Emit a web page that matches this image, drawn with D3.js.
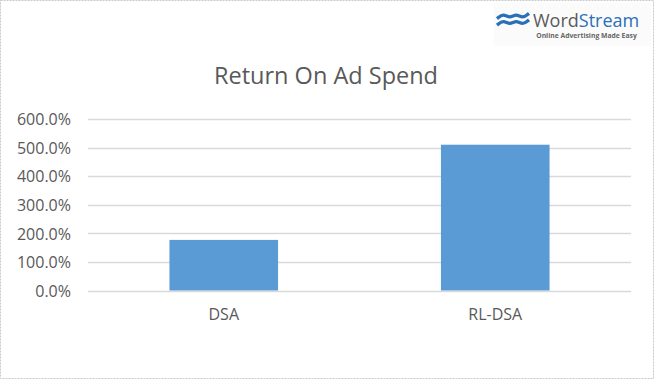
<!DOCTYPE html>
<html><head><meta charset="utf-8">
<script src="https://cdn.jsdelivr.net/npm/d3@7"></script>
<style>body{margin:0;background:#fff}svg{display:block}</style>
</head><body>
<script>
const categories = ["DSA", "RL-DSA"];
const values = [177, 510];
const ticks = [0, 100, 200, 300, 400, 500, 600];
const title = "Return On Ad Spend";

(function () {
const W = 655, H = 381;
const FONT = "'Open Sans', 'Liberation Sans', sans-serif";
const svg = d3.select("body").append("svg").attr("width", W).attr("height", H);
svg.append("rect").attr("x", 0.5).attr("y", 0.5).attr("width", 653).attr("height", 378)
  .attr("fill", "#fff").attr("stroke", "#c8c8c8").attr("stroke-dasharray", "2,1");

const pLeft = 88, pRight = 631, pTop = 119, pBottom = 290.5;
const x = d3.scaleBand().domain(categories).range([pLeft, pRight]).paddingInner(0.6).paddingOuter(0.3);
const y = d3.scaleLinear().domain([0, 600]).range([pBottom, pTop]);

svg.append("g").selectAll("line").data(ticks).join("line")
  .attr("x1", pLeft).attr("x2", pRight)
  .attr("y1", d => Math.round(y(d)) + 0.5).attr("y2", d => Math.round(y(d)) + 0.5)
  .attr("stroke", "#d9d9d9").attr("stroke-width", 1.4);

const yAxis = d3.axisLeft(y).tickValues(ticks).tickSize(0).tickPadding(0)
  .tickFormat(d => d.toFixed(1) + "%");
const ya = svg.append("g").attr("transform", `translate(${pLeft - 17},0)`).call(yAxis);
ya.select(".domain").remove();
ya.selectAll("text").attr("fill", "#595959").attr("dy", "0.36em").style("font-family", FONT).style("font-size", "16px");

svg.append("g").selectAll("rect").data(values).join("rect")
  .attr("x", (d, i) => x(categories[i])).attr("width", x.bandwidth())
  .attr("y", d => y(d)).attr("height", d => y(0) - y(d))
  .attr("fill", "#5b9bd5");

const xAxis = d3.axisBottom(x).tickSize(0).tickPadding(0);
const xa = svg.append("g").attr("transform", `translate(0,${pBottom + 18})`).call(xAxis);
xa.select(".domain").remove();
xa.selectAll("text").attr("fill", "#595959").style("font-family", FONT).style("font-size", "16px");

svg.append("text").attr("x", 326).attr("y", 84).attr("text-anchor", "middle")
  .attr("fill", "#595959").style("font-family", FONT).style("font-size", "23.5px")
  .text(title);

const logo = svg.append("g");
logo.append("rect").attr("x", 494).attr("y", 3).attr("width", 157).attr("height", 43).attr("fill", "#fbfbfb");
const wave = d3.line().curve(d3.curveBasis);
[16, 22.5].forEach(yy => {
  const pts = d3.range(0, 6).map(k => [497 + k * 6.4, yy + (k % 2 ? -2.6 : 2.6)]);
  logo.append("path").attr("d", wave(pts)).attr("fill", "none").attr("stroke", "#2a70b8").attr("stroke-width", 3.4);
});
const t = logo.append("text").attr("x", 533).attr("y", 27)
  .style("font-family", FONT).style("font-size", "18px");
t.append("tspan").attr("fill", "#5a5a5a").text("Word");
t.append("tspan").attr("fill", "#2a70b8").text("Stream");
logo.append("text").attr("x", 586.5).attr("y", 38).attr("text-anchor", "middle")
  .attr("fill", "#666").style("font-family", FONT)
  .style("font-size", "6.8px").style("font-weight", "bold").text("Online Advertising Made Easy");
})();
</script>
</body></html>
